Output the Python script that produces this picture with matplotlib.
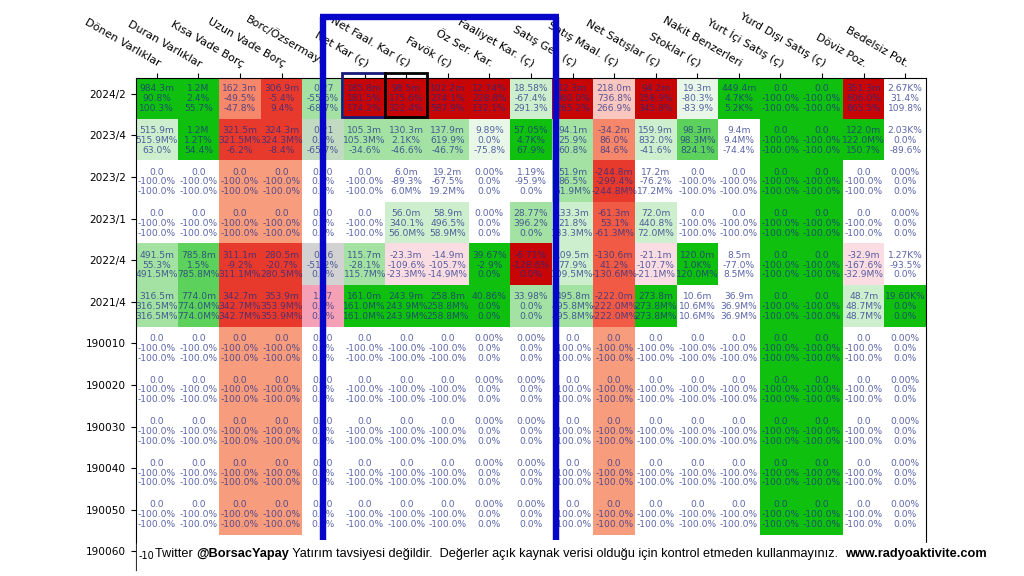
import numpy as np
import matplotlib.pyplot as plt
from matplotlib.colors import to_rgb
from matplotlib.patches import Rectangle
from matplotlib.lines import Line2D
from matplotlib.text import Annotation

# column / row labels
cols = ["Dönen Varlıklar", "Duran Varlıklar", "Kısa Vade Borç", "Uzun Vade Borç",
        "Borc/Özsermaye", "Net Kar (ç)", "Net Faal. Kar (ç)", "Favök (ç)",
        "Öz Ser. Kar.", "Faaliyet Kar. (ç)", "Satış Gel. (ç)", "Satış Maal. (ç)",
        "Net Satışlar (ç)", "Stoklar (ç)", "Nakit Benzerleri", "Yurt İçi Satış (ç)",
        "Yurd Dışı Satış (ç)", "Döviz Poz.", "Bedelsiz Pot."]
rows = ["2024/2", "2023/4", "2023/2", "2023/1", "2022/4", "2021/4",
        "190010", "190020", "190030", "190040", "190050", "190060"]

# value, change 1, change 2 for each period
val_2024_2 = ["984.3m", "1.2M", "162.3m", "306.9m", "0.27", "185.8m", "98.5m", "102.2m", "12.74%", "18.58%",
              "12.3m", "218.0m", "94.2m", "19.3m", "449.4m", "0.0", "0.0", "351.3m", "2.67K%"]
ch1_2024_2 = ["90.8%", "2.4%", "-49.5%", "-5.4%", "-55.6%", "181.5%", "175.6%", "274.1%", "228.8%", "-67.4%",
              "360.0%", "736.8%", "158.9%", "-80.3%", "4.7K%", "-100.0%", "-100.0%", "606.0%", "31.4%"]
ch2_2024_2 = ["100.3%", "55.7%", "-47.8%", "9.4%", "-68.7%", "174.2%", "322.4%", "587.9%", "132.1%", "291.3%",
              "265.2%", "266.9%", "345.8%", "-83.9%", "5.2K%", "-100.0%", "-100.0%", "665.5%", "109.8%"]

val_2023_4 = ["515.9m", "1.2M", "321.5m", "324.3m", "0.21", "105.3m", "130.3m", "137.9m", "9.89%", "57.05%",
              "94.1m", "-34.2m", "159.9m", "98.3m", "9.4m", "0.0", "0.0", "122.0m", "2.03K%"]
ch1_2023_4 = ["515.9M%", "1.2T%", "321.5M%", "324.3M%", "0.0%", "105.3M%", "2.1K%", "619.9%", "0.0%", "4.7K%",
              "25.9%", "86.0%", "832.0%", "98.3M%", "9.4M%", "-100.0%", "-100.0%", "122.0M%", "0.0%"]
ch2_2023_4 = ["63.0%", "54.4%", "-6.2%", "-8.4%", "-65.7%", "-34.6%", "-46.6%", "-46.7%", "-75.8%", "67.9%",
              "60.8%", "84.6%", "-41.6%", "824.1%", "-74.4%", "-100.0%", "-100.0%", "150.7%", "-89.6%"]

val_2023_2 = ["0.0", "0.0", "0.0", "0.0", "0.00", "0.0", "6.0m", "19.2m", "0.00%", "1.19%",
              "51.9m", "-244.8m", "17.2m", "0.0", "0.0", "0.0", "0.0", "0.0", "0.00%"]
ch1_2023_2 = ["-100.0%", "-100.0%", "-100.0%", "-100.0%", "0.0%", "-100.0%", "-89.3%", "-67.5%", "0.0%", "-95.9%",
              "86.5%", "-299.4%", "-76.2%", "-100.0%", "-100.0%", "-100.0%", "-100.0%", "-100.0%", "0.0%"]
ch2_2023_2 = ["-100.0%", "-100.0%", "-100.0%", "-100.0%", "0.0%", "-100.0%", "6.0M%", "19.2M%", "0.0%", "0.0%",
              "51.9M%", "-244.8M%", "17.2M%", "-100.0%", "-100.0%", "-100.0%", "-100.0%", "-100.0%", "0.0%"]

val_2023_1 = ["0.0", "0.0", "0.0", "0.0", "0.00", "0.0", "56.0m", "58.9m", "0.00%", "28.77%",
              "133.3m", "-61.3m", "72.0m", "0.0", "0.0", "0.0", "0.0", "0.0", "0.00%"]
ch1_2023_1 = ["-100.0%", "-100.0%", "-100.0%", "-100.0%", "0.0%", "-100.0%", "340.1%", "496.5%", "0.0%", "396.2%",
              "21.8%", "53.1%", "440.8%", "-100.0%", "-100.0%", "-100.0%", "-100.0%", "-100.0%", "0.0%"]
ch2_2023_1 = ["-100.0%", "-100.0%", "-100.0%", "-100.0%", "0.0%", "-100.0%", "56.0M%", "58.9M%", "0.0%", "0.0%",
              "133.3M%", "-61.3M%", "72.0M%", "-100.0%", "-100.0%", "-100.0%", "-100.0%", "-100.0%", "0.0%"]

val_2022_4 = ["491.5m", "785.8m", "311.1m", "280.5m", "0.16", "115.7m", "-23.3m", "-14.9m", "39.67%", "-6.71%",
              "109.5m", "-130.6m", "-21.1m", "120.0m", "8.5m", "0.0", "0.0", "-32.9m", "1.27K%"]
ch1_2022_4 = ["55.3%", "1.5%", "-9.2%", "-20.7%", "-51.2%", "-28.1%", "-109.6%", "-105.7%", "-2.9%", "-128.6%",
              "77.9%", "41.2%", "-107.7%", "1.0K%", "-77.0%", "-100.0%", "-100.0%", "-167.6%", "-93.5%"]
ch2_2022_4 = ["491.5M%", "785.8M%", "311.1M%", "280.5M%", "0.0%", "115.7M%", "-23.3M%", "-14.9M%", "0.0%", "0.0%",
              "109.5M%", "-130.6M%", "-21.1M%", "120.0M%", "8.5M%", "-100.0%", "-100.0%", "-32.9M%", "0.0%"]

val_2021_4 = ["316.5m", "774.0m", "342.7m", "353.9m", "1.17", "161.0m", "243.9m", "258.8m", "40.86%", "33.98%",
              "495.8m", "-222.0m", "273.8m", "10.6m", "36.9m", "0.0", "0.0", "48.7m", "19.60K%"]
ch1_2021_4 = ["316.5M%", "774.0M%", "342.7M%", "353.9M%", "0.0%", "161.0M%", "243.9M%", "258.8M%", "0.0%", "0.0%",
              "495.8M%", "-222.0M%", "273.8M%", "10.6M%", "36.9M%", "-100.0%", "-100.0%", "48.7M%", "0.0%"]
ch2_2021_4 = ch1_2021_4

val_empty = ["0.0", "0.0", "0.0", "0.0", "0.00", "0.0", "0.0", "0.0", "0.00%", "0.00%",
             "0.0", "0.0", "0.0", "0.0", "0.0", "0.0", "0.0", "0.0", "0.00%"]
ch_empty = ["-100.0%", "-100.0%", "-100.0%", "-100.0%", "0.0%", "-100.0%", "-100.0%", "-100.0%", "0.0%", "0.0%",
            "-100.0%", "-100.0%", "-100.0%", "-100.0%", "-100.0%", "-100.0%", "-100.0%", "-100.0%", "0.0%"]

values = [val_2024_2, val_2023_4, val_2023_2, val_2023_1, val_2022_4, val_2021_4] + [val_empty] * 5
change1 = [ch1_2024_2, ch1_2023_4, ch1_2023_2, ch1_2023_1, ch1_2022_4, ch1_2021_4] + [ch_empty] * 5
change2 = [ch2_2024_2, ch2_2023_4, ch2_2023_2, ch2_2023_1, ch2_2022_4, ch2_2021_4] + [ch_empty] * 5

# cell colour codes, one letter per column
cell_codes = [
    "GGTRLDDDDVDKDEGGGDW",
    "VGRRHLLLEGLTVMWGGGW",
    "WWSSWWWWWWLRWWWGGWW",
    "WWSSWWVVWLVOVWWGGWW",
    "LMRRYLQQGDVOQGWGGQW",
    "LMRRPGGGGLLOGWWGGVG",
] + ["WWSSWWWWWWWSWWWGGWW"] * 5

palette = {
    "G": "#0fc00f", "M": "#5cd25c", "L": "#a3e2a3", "V": "#cdefcd", "E": "#e9f7e9",
    "W": "#ffffff", "S": "#f89c7e", "T": "#f6876a", "R": "#e83a2c", "O": "#f15b45",
    "D": "#c70505", "P": "#f4a0b6", "Q": "#f9dde2", "K": "#fac6c0", "Y": "#d2d2d2",
    "H": "#c2d9c2",
}

fig = plt.figure(figsize=(10.24, 5.76), dpi=100)
ax = fig.add_axes([136 / 1024, 1 - 570 / 576, 790 / 1024, (570 - 78) / 576])

rgb = np.array([[to_rgb(palette[c]) for c in row] for row in cell_codes])
n_rows = len(cell_codes)
ax.imshow(rgb, aspect="auto", interpolation="nearest",
          extent=(-0.5, len(cols) - 0.5, n_rows - 0.5, -0.5), zorder=0)

for i in range(n_rows):
    for j in range(len(cols)):
        ax.text(j, i, f"{values[i][j]}\n{change1[i][j]}\n{change2[i][j]}",
                ha="center", va="center", fontsize=6.6, color="#1c2a86",
                alpha=0.72, linespacing=1.12, zorder=2)

ax.set_xlim(-0.5, len(cols) - 0.5)
ax.set_ylim(11.33, -0.5)
ax.set_xticks(np.arange(len(cols)))
ax.set_xticklabels(cols, rotation=-30, ha="right", va="bottom",
                   rotation_mode="anchor", fontsize=8)
ax.xaxis.tick_top()
ax.set_yticks(np.arange(len(rows)) - 0.12)
ax.set_yticklabels(rows, fontsize=7.6)
ax.tick_params(axis="x", pad=3, length=3.5)
ax.tick_params(axis="y", length=3.5)
for s in ax.spines.values():
    s.set_linewidth(0.8)

# highlight boxes around first row cells
ax.add_patch(Rectangle((4.46, -0.62), 1.03, 1.06, fill=False, ec="#1a1a7a",
                       lw=2, clip_on=False, zorder=4))
ax.add_patch(Rectangle((5.49, -0.62), 1.01, 1.06, fill=False, ec="black",
                       lw=2, clip_on=False, zorder=4))


def px(x, y):
    return x / 1024, 1 - y / 576


# big blue frame (open at the bottom)
blue = "#0606c8"
for (x0, y0), (x1, y1) in [((323, 540), (323, 17)), ((320, 17), (559, 17)),
                           ((556, 17), (556, 540))]:
    a, b = px(x0, y0)
    c, d = px(x1, y1)
    fig.add_artist(Line2D([a, c], [b, d], color=blue, lw=4.6,
                          solid_capstyle="butt", zorder=10))

# footer on a white strip
fig.add_artist(Rectangle(px(137, 576), 880 / 1024, 33 / 576, color="white",
                         transform=fig.transFigure, zorder=11))
fig.text(*px(139, 556), "-10", fontsize=7, ha="left", va="center", zorder=12)
foot = [("Twitter ", "normal"), ("@BorsacYapay", "bold"),
        (" Yatırım tavsiyesi değildir.  Değerler açık kaynak verisi olduğu için kontrol etmeden kullanmayınız.  ", "normal"),
        ("www.radyoaktivite.com", "bold")]
prev = fig.text(*px(155, 560), foot[0][0], fontsize=9.2, family="Liberation Sans",
                va="bottom", zorder=12)
for txt, w in foot[1:]:
    prev = fig.add_artist(Annotation(txt, xy=(1, 0), xycoords=prev, va="bottom",
                                     ha="left", fontsize=9.2, family="Liberation Sans",
                                     fontweight=w, annotation_clip=False, zorder=12))

fig.savefig("out.png", dpi=100)
